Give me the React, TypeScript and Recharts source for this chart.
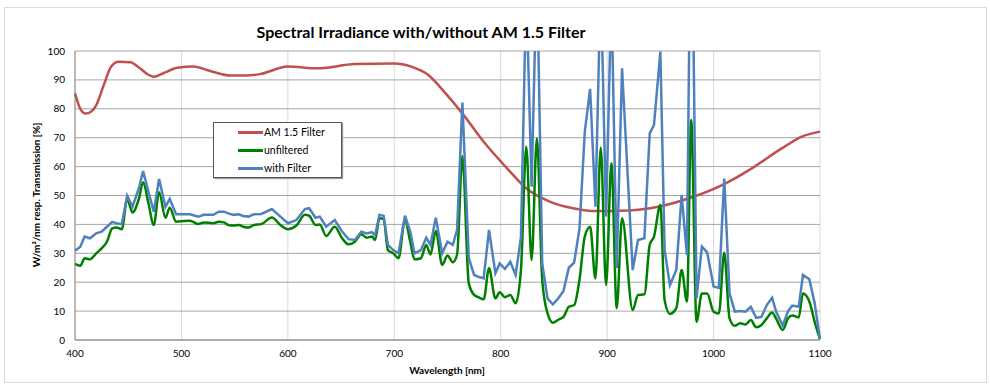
import { LineChart, Line, XAxis, YAxis, CartesianGrid, Legend } from 'recharts'

// sampled wavelengths [nm] shared by both irradiance traces
const wavelengths = [
  400, 405, 409, 414, 420, 425, 430, 435, 439, 444, 449, 454, 460, 464, 469, 474, 479, 485, 489, 495,
  502, 508, 516, 521, 530, 535, 540, 544, 549, 554, 558, 563, 568, 575, 585, 593, 600, 608, 616, 620,
  626, 630, 636, 644, 651, 657, 663, 669, 674, 679, 682, 686, 690, 694, 699, 704, 710, 715, 719, 725,
  730, 734, 739, 745, 750, 755, 759, 764, 770, 775, 779, 784, 789, 795, 799, 804, 809, 814, 819, 824,
  829, 834, 839, 844, 849, 854, 859, 864, 869, 874, 879, 884, 889, 894, 899, 904, 909, 914, 924, 929,
  935, 940, 944, 950, 954, 959, 965, 970, 975, 979, 984, 989, 994, 1000, 1005, 1010, 1015, 1020, 1025, 1030,
  1035, 1040, 1045, 1050, 1055, 1059, 1065, 1070, 1074, 1080, 1084, 1090, 1095, 1100,
]

const unfiltered = [
  26.3, 25.7, 28.3, 27.9, 30.0, 31.7, 34.0, 38.6, 38.9, 38.3, 48.8, 44.1, 48.8, 54.6, 47.3, 39.8, 51.1, 42.3, 45.8, 40.9,
  41.2, 41.3, 40.1, 40.7, 40.4, 40.9, 40.7, 39.8, 39.6, 39.8, 39.2, 38.9, 39.8, 40.1, 42.4, 39.8, 38.3, 39.6, 43.3, 43.0,
  39.8, 40.0, 36.0, 39.2, 35.2, 33.1, 34.0, 36.6, 35.4, 35.8, 34.6, 42.1, 41.9, 31.1, 30.0, 28.3, 41.5, 34.0, 27.9, 28.3,
  32.9, 29.6, 37.7, 26.0, 29.2, 26.9, 29.6, 63.6, 19.6, 15.6, 14.8, 14.1, 24.8, 14.4, 16.5, 14.8, 15.6, 12.7, 24.2, 66.9,
  27.7, 69.7, 20.8, 9.2, 6.0, 7.0, 8.0, 11.5, 12.1, 20.8, 35.8, 39.2, 21.3, 66.5, 19.0, 61.2, 11.0, 42.1, 10.4, 15.6,
  15.8, 32.9, 35.8, 46.7, 13.8, 9.0, 11.0, 24.2, 13.3, 76.1, 6.3, 16.1, 16.1, 9.8, 9.2, 30.2, 7.5, 4.9, 5.8, 5.4,
  6.9, 4.4, 5.2, 7.5, 9.5, 7.2, 3.5, 7.5, 8.5, 7.8, 16.1, 13.3, 6.3, 0.3,
]

const withFilter = [
  30.9, 32.3, 35.8, 35.2, 36.9, 37.5, 39.2, 40.9, 40.4, 40.1, 49.9, 46.1, 52.5, 58.5, 51.3, 44.4, 55.7, 46.1, 48.8, 43.5,
  43.5, 43.5, 42.7, 43.3, 43.3, 44.4, 44.4, 43.8, 43.3, 43.5, 42.9, 42.7, 43.5, 43.6, 45.3, 42.7, 40.4, 41.5, 45.3, 45.6,
  42.3, 42.7, 39.2, 41.5, 37.5, 34.9, 34.6, 37.5, 36.9, 37.3, 36.3, 43.3, 43.0, 32.9, 31.1, 30.0, 43.0, 37.5, 30.0, 31.1,
  35.4, 32.9, 42.3, 30.0, 34.0, 32.9, 38.1, 82.2, 28.3, 22.5, 21.9, 21.3, 38.1, 23.1, 26.5, 24.6, 27.1, 22.5, 35.5, 122,
  53, 130, 26.5, 14.4, 12.3, 14.4, 17.0, 25.0, 26.8, 38.5, 72.0, 86.9, 46.1, 125, 42.7, 120, 24.8, 94.0, 24.2, 34.6,
  35.2, 71.5, 74.4, 99.8, 31.1, 19.0, 24.2, 50.2, 29.4, 170, 14.4, 32.3, 30.3, 18.5, 18.0, 55.9, 16.1, 9.8, 10.0, 9.8,
  11.5, 7.7, 8.0, 12.1, 14.6, 9.6, 5.0, 10.0, 11.9, 11.5, 22.5, 21.0, 12.7, 0.3,
]

// AM 1.5 filter transmission curve
const amWavelengths = [
  400, 405, 410, 415, 420, 427, 434, 441, 452, 461, 468, 474, 483, 496, 511, 527, 546, 561, 574, 600,
  628, 663, 700, 716, 732, 748, 765, 784, 806, 824, 846, 868, 890, 920, 948, 979, 1008, 1036, 1064, 1083, 1100,
]
const amTransmission = [
  85.4, 80.0, 78.4, 79.0, 81.3, 88.2, 94.6, 96.3, 96.1, 94.0, 92.0, 91.1, 92.3, 94.2, 94.6, 93.1, 91.5, 91.5, 92.0, 94.6,
  94.0, 95.5, 95.7, 94.6, 91.7, 85.4, 77.9, 68.6, 59.4, 52.5, 47.9, 45.6, 44.6, 44.8, 46.1, 49.3, 53.6, 59.4, 66.3, 70.4, 72.1,
]

const xTicks = [400, 500, 600, 700, 800, 900, 1000, 1100]
const yTicks = [0, 10, 20, 30, 40, 50, 60, 70, 80, 90, 100]

const RED = '#c0504d'
const GREEN = '#008000'
const BLUE = '#4f81bd'
const FONT = 'Lato, "Open Sans", sans-serif'

const spectrum = wavelengths.map((nm, i) => ({ nm, unfiltered: unfiltered[i], withFilter: withFilter[i] }))
const filterCurve = amWavelengths.map((nm, i) => ({ nm, am: amTransmission[i] }))

const legendItems = [
  { label: 'AM 1.5 Filter', color: RED },
  { label: 'unfiltered', color: GREEN },
  { label: 'with Filter', color: BLUE },
]

function LegendBox() {
  return (
    <div
      style={{
        position: 'relative',
        width: 129,
        height: 56,
        border: '1px solid #555',
        boxShadow: '1px 1px 1px #999',
        background: '#fff',
        boxSizing: 'border-box',
        fontFamily: FONT,
        fontSize: 10.5,
        lineHeight: '12px',
      }}
    >
      {legendItems.map((it, i) => (
        <div key={it.label} style={{ position: 'absolute', left: 0, top: 3 + i * 18, height: 12, whiteSpace: 'nowrap' }}>
          <span
            style={{ position: 'absolute', left: 24, top: 5, width: 25, height: 3, background: it.color }}
          />
          <span style={{ position: 'absolute', left: 50, top: 0 }}>{it.label}</span>
        </div>
      ))}
    </div>
  )
}

export default function App() {
  return (
    <div style={{ position: 'absolute', left: 0, top: 0, width: 990, height: 385, background: '#fff', fontFamily: FONT }}>
      <div style={{ position: 'absolute', left: 4, top: 7, width: 981, height: 374, border: '1px solid #d9d9d9' }} />
      <div
        style={{ position: 'absolute', left: 221, width: 400, top: 22, textAlign: 'center', fontWeight: 700, fontSize: 16 }}
      >
        Spectral Irradiance with/without AM 1.5 Filter
      </div>
      <LineChart
        width={990}
        height={385}
        data={spectrum}
        margin={{ top: 51, right: 170, bottom: 15, left: 35 }}
        style={{ position: 'absolute', left: 0, top: 0 }}
      >
        <CartesianGrid horizontal={false} stroke="#d9d9d9" />
        <CartesianGrid vertical={false} stroke="#a6a6a6" />
        <XAxis
          dataKey="nm"
          type="number"
          domain={[400, 1100]}
          ticks={xTicks}
          allowDuplicatedCategory={false}
          stroke="#868686"
          tickLine={false}
          tickSize={0}
          tickMargin={10}
          height={30}
          tick={{ fontSize: 10, fill: '#000', fontFamily: FONT }}
        />
        <YAxis
          type="number"
          domain={[0, 100]}
          ticks={yTicks}
          allowDataOverflow
          stroke="#868686"
          tickLine={false}
          tickSize={0}
          tickMargin={10}
          width={40}
          tick={{ fontSize: 10, fill: '#000', fontFamily: FONT }}
        />
        <Legend
          layout="vertical"
          align="center"
          verticalAlign="middle"
          content={() => <LegendBox />}
          wrapperStyle={{ left: 213, top: 122, width: 129, height: 56 }}
        />
        <Line
          data={filterCurve}
          dataKey="am"
          name="AM 1.5 Filter"
          type="monotone"
          stroke={RED}
          strokeWidth={2.5}
          dot={false}
          isAnimationActive={false}
        />
        <Line
          dataKey="unfiltered"
          name="unfiltered"
          type="monotone"
          stroke={GREEN}
          strokeWidth={2.5}
          dot={false}
          isAnimationActive={false}
        />
        <Line
          dataKey="withFilter"
          name="with Filter"
          type="linear"
          stroke={BLUE}
          strokeWidth={2.5}
          dot={false}
          isAnimationActive={false}
        />
      </LineChart>
      <div
        style={{ position: 'absolute', left: 397, width: 100, top: 364, textAlign: 'center', fontWeight: 700, fontSize: 10 }}
      >
        Wavelength [nm]
      </div>
      <div
        style={{
          position: 'absolute',
          left: 36,
          top: 195,
          width: 200,
          textAlign: 'center',
          fontWeight: 700,
          fontSize: 10,
          transform: 'translate(-50%, -50%) rotate(-90deg)',
          whiteSpace: 'nowrap',
        }}
      >
        W/m²/nm resp. Transmission [%]
      </div>
    </div>
  )
}
